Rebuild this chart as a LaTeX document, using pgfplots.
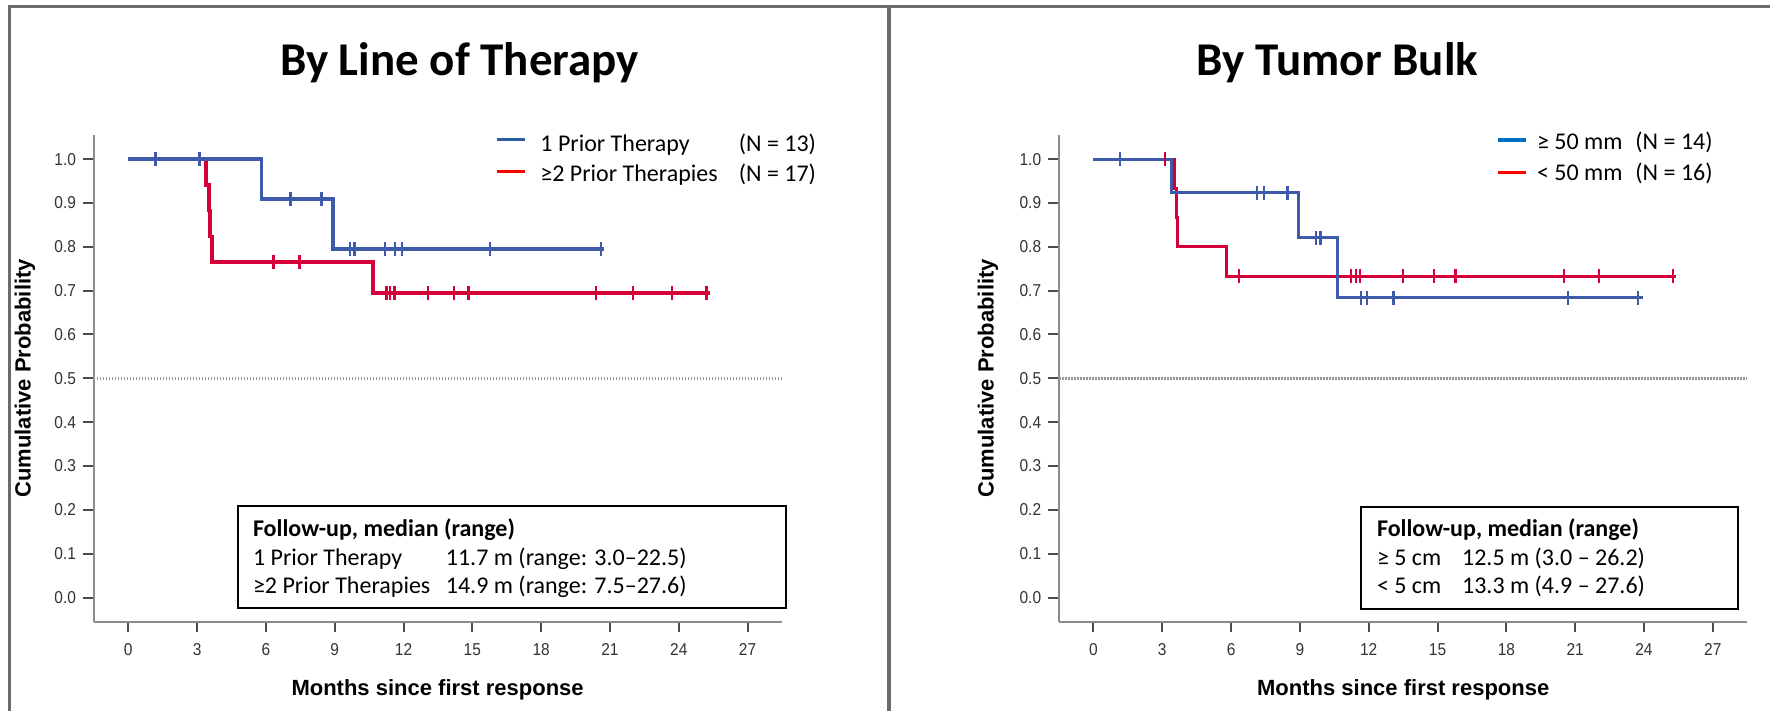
\documentclass[border=0pt]{standalone}
\usepackage{pgfplots}
\pgfplotsset{compat=1.18}
\usepackage{fontspec}
\setmainfont{Carlito}
\newfontfamily\arialf{Liberation Sans}
\newfontfamily\ticknarrow[FakeStretch=0.9]{Liberation Sans}
\definecolor{kmblue}{RGB}{62,90,170}
\definecolor{kmred}{RGB}{213,0,58}
\definecolor{legblueA}{RGB}{46,90,160}
\definecolor{legblueB}{RGB}{0,112,192}
\definecolor{framegray}{RGB}{107,107,107}
\definecolor{dotgray}{RGB}{150,150,150}

\pgfplotsset{kmaxis/.style={
  scale only axis, width=344.2pt, height=243.35pt,
  xmin=-1.51, xmax=28.5, ymin=-0.055, ymax=1.055,
  axis lines*=left,
  axis line style={draw=black!45, line width=1pt},
  xtick={0,3,6,9,12,15,18,21,24,27},
  ytick={0,0.1,0.2,0.3,0.4,0.5,0.6,0.7,0.8,0.9,1},
  tick align=outside, major tick length=5.3pt,
  tick style={draw=black!70, line width=1pt},
  /pgf/number format/assume math mode=true,
  ticklabel style={font=\ticknarrow\fontsize{8.6}{9.5}\selectfont, text=black!80},
  xticklabel style={yshift=-2pt},
  yticklabel style={/pgf/number format/fixed, /pgf/number format/fixed zerofill, /pgf/number format/precision=1},
  clip=false,
}}

\begin{document}
\begin{tikzpicture}
\path[use as bounding box] (0,0) rectangle (885pt,355.5pt);

% ---------------- Left panel ----------------
\begin{axis}[kmaxis, at={(46.8pt,44.65pt)}, anchor=south west]
\addplot[draw=dotgray, line width=1.6pt, dash pattern=on 0.9pt off 0.6pt] coordinates {(-1.51,0.5) (28.5,0.5)};
\addplot[kmred, line width=1.8pt, const plot, mark=none] coordinates {
(0,1) (3.38,0.9412) (3.52,0.8824) (3.57,0.8235) (3.64,0.7647) (10.67,0.6952) (25.35,0.6952)};
\addplot[kmblue, line width=1.8pt, const plot, mark=none] coordinates {
(0,1) (5.81,0.9091) (8.93,0.7955) (20.75,0.7955)};
\addplot[only marks, mark=|, mark size=3.6pt, kmred, mark options={line width=1.2pt}] coordinates {
(6.33,0.7647) (7.47,0.7647) (11.25,0.6952) (11.42,0.6952) (11.6,0.6952) (13.08,0.6952) (14.2,0.6952) (14.83,0.6952) (20.4,0.6952) (22.0,0.6952) (23.7,0.6952) (25.2,0.6952)};
\addplot[only marks, mark=|, mark size=3.6pt, kmblue, mark options={line width=1.2pt}] coordinates {
(1.19,1) (3.1,1) (7.08,0.9091) (8.43,0.9091) (9.68,0.7955) (9.87,0.7955) (11.19,0.7955) (11.63,0.7955) (11.94,0.7955) (15.78,0.7955) (20.6,0.7955)};
\end{axis}

% ---------------- Right panel ----------------
\begin{axis}[kmaxis, at={(529.4pt,44.65pt)}, anchor=south west]
\addplot[draw=dotgray, line width=1.6pt, dash pattern=on 0.9pt off 0.6pt] coordinates {(-1.51,0.5) (28.5,0.5)};
\addplot[kmred, line width=1.5pt, const plot, mark=none] coordinates {
(0,1) (3.55,0.9333) (3.6,0.8667) (3.65,0.8) (5.81,0.7333) (25.4,0.7333)};
\addplot[kmblue, line width=1.5pt, const plot, mark=none] coordinates {
(0,1) (3.41,0.9231) (8.93,0.8205) (10.66,0.6838) (23.95,0.6838)};
\addplot[only marks, mark=|, mark size=3.5pt, kmred, mark options={line width=1.1pt}] coordinates {
(3.12,1) (6.34,0.7333) (11.21,0.7333) (11.43,0.7333) (11.62,0.7333) (13.5,0.7333) (14.86,0.7333) (15.78,0.7333) (20.5,0.7333) (22.03,0.7333) (25.27,0.7333)};
\addplot[only marks, mark=|, mark size=3.5pt, kmblue, mark options={line width=1.1pt}] coordinates {
(1.16,1) (7.12,0.9231) (7.42,0.9231) (8.46,0.9231) (9.7,0.8205) (9.9,0.8205) (11.65,0.6838) (11.94,0.6838) (13.08,0.6838) (20.67,0.6838) (23.74,0.6838)};
\end{axis}

% ---------------- Frame ----------------
\draw[framegray, line width=1.5pt] (4.75pt,0pt) -- (4.75pt,352.4pt) -- (885pt,352.4pt);
\draw[framegray, line width=1.6pt] (444.5pt,0pt) -- (444.5pt,352.4pt);

% ---------------- Titles ----------------
\node[font=\bfseries\fontsize{23.5}{28}\selectfont, anchor=base] at (229.75pt,317.5pt) {By Line of Therapy};
\node[font=\bfseries\fontsize{23.5}{28}\selectfont, anchor=base] at (668.7pt,317.5pt) {By Tumor Bulk};

% ---------------- Axis labels ----------------
\node[font=\arialf\bfseries\fontsize{11}{13}\selectfont, rotate=90] at (12.5pt,166.35pt) {Cumulative Probability};
\node[font=\arialf\bfseries\fontsize{11}{13}\selectfont, rotate=90] at (494pt,166.35pt) {Cumulative Probability};
\node[font=\arialf\bfseries\fontsize{11}{13}\selectfont, anchor=base] at (218.8pt,7.65pt) {Months since first response};
\node[font=\arialf\bfseries\fontsize{11}{13}\selectfont, anchor=base] at (701.6pt,7.65pt) {Months since first response};

% ---------------- Legends ----------------
\draw[legblueA, line width=1.75pt] (248.5pt,285.85pt) -- (262.5pt,285.85pt);
\draw[red, line width=1.75pt] (248.5pt,269.65pt) -- (262.5pt,269.65pt);
\begin{scope}[every node/.style={anchor=base west, inner sep=0pt, font=\fontsize{12}{14}\selectfont}]
\node at (270pt,279.65pt) {1 Prior Therapy};
\node at (369.2pt,279.65pt) {(N = 13)};
\node at (270pt,264.65pt) {≥2 Prior Therapies};
\node at (369.2pt,264.65pt) {(N = 17)};
\end{scope}

\draw[legblueB, line width=1.75pt] (749pt,285.5pt) -- (763pt,285.5pt);
\draw[red, line width=1.75pt] (749pt,269.15pt) -- (763pt,269.15pt);
\begin{scope}[every node/.style={anchor=base west, inner sep=0pt, font=\fontsize{12}{14}\selectfont}]
\node at (768.3pt,280.5pt) {≥ 50 mm};
\node at (817.5pt,280.5pt) {(N = 14)};
\node at (768.3pt,265pt) {< 50 mm};
\node at (817.5pt,265pt) {(N = 16)};
\end{scope}

% ---------------- Follow-up boxes ----------------
\draw[black, line width=1pt] (119pt,102.5pt) rectangle (393pt,51.5pt);
\begin{scope}[every node/.style={anchor=base west, inner sep=0pt, font=\fontsize{12}{14}\selectfont}]
\node[font=\bfseries\fontsize{12}{14}\selectfont] at (126.3pt,87.15pt) {Follow-up, median (range)};
\node at (126.3pt,72.5pt) {1 Prior Therapy};
\node at (222.75pt,72.5pt) {11.7 m (range: 3.0–22.5)};
\node at (126.3pt,58.5pt) {≥2 Prior Therapies};
\node at (222.75pt,58.5pt) {14.9 m (range: 7.5–27.6)};
\end{scope}

\draw[black, line width=1pt] (680.65pt,102.15pt) rectangle (869.05pt,51pt);
\begin{scope}[every node/.style={anchor=base west, inner sep=0pt, font=\fontsize{12}{14}\selectfont}]
\node[font=\bfseries\fontsize{12}{14}\selectfont] at (688.3pt,87.15pt) {Follow-up, median (range)};
\node at (688.3pt,72.5pt) {≥ 5 cm};
\node at (730.85pt,72.5pt) {12.5 m (3.0 – 26.2)};
\node at (688.3pt,58.5pt) {< 5 cm};
\node at (730.85pt,58.5pt) {13.3 m (4.9 – 27.6)};
\end{scope}
\end{tikzpicture}
\end{document}
